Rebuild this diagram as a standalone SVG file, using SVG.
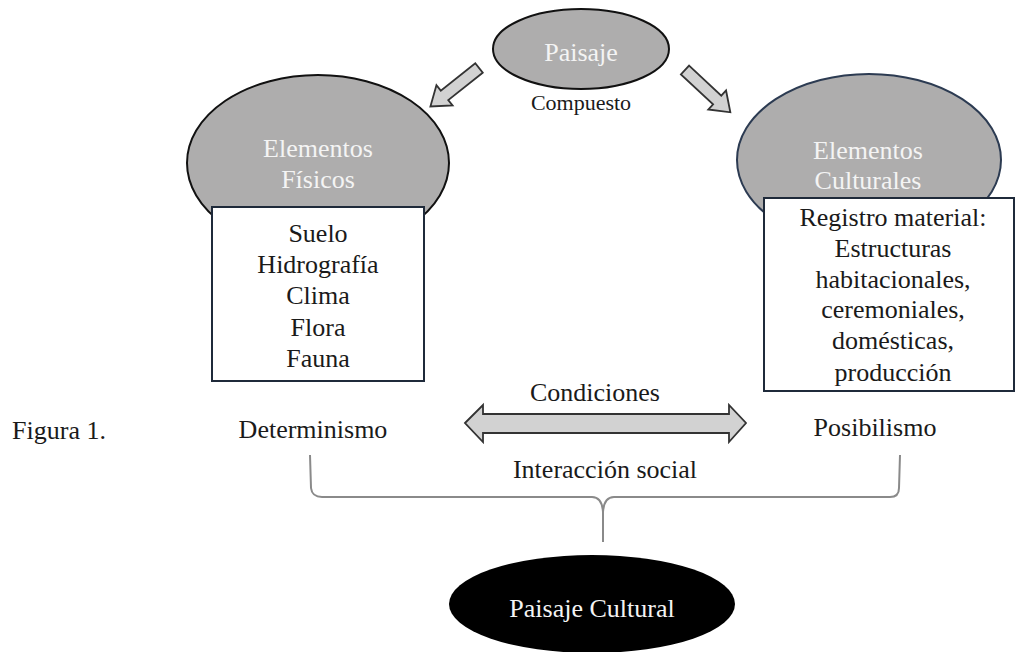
<svg xmlns="http://www.w3.org/2000/svg" width="1016" height="652" viewBox="0 0 1016 652">
<style>
.t{font-family:'Liberation Serif','Times New Roman',serif;font-size:26px;fill:#1a1a1a}
.w{fill:#f4f4f4}
.gray{fill:#aeadad;stroke-width:2}
.box{fill:#ffffff;stroke:#1f2a3a;stroke-width:2}
.blk{fill:#000000;stroke:none}
.arr{fill:#d2d2d2;stroke:#333;stroke-width:1.8;stroke-linejoin:miter}
.brace{fill:none;stroke:#8a8a8a;stroke-width:2}
</style>
<defs>
<polygon id="blockArrow" points="0,-6 44,-6 44,-13 62,0 44,13 44,6 0,6"/>
</defs>
<rect width="1016" height="652" fill="#ffffff"/>

<g id="connectors">
<use href="#blockArrow" class="arr" transform="translate(479,68) rotate(141.6)"/>
<use href="#blockArrow" class="arr" transform="translate(685,70) rotate(43)"/>
<polygon class="arr" stroke-width="2.5" points="465,423 483,405 483,414 729,414 729,405 746,423 729,442 729,433 483,433 483,442"/>
<path class="brace" d="M310,455 L311,488 Q312,497 322,497 L592,497 Q602,497 603,512 L603,542 M603,512 Q604,497 614,497 L890,497 Q899,497 899,488 L900,455"/>
</g>

<g id="paisaje" text-anchor="middle">
<ellipse class="gray" cx="581" cy="49" rx="88" ry="40" stroke="#111"/>
<text class="t w" x="581" y="61">Paisaje</text>
</g>
<g id="label-compuesto" text-anchor="middle">
<text class="t" x="581" y="110" font-size="22" style="font-size:22px">Compuesto</text>
</g>

<g id="elementos-fisicos" text-anchor="middle">
<ellipse class="gray" cx="318" cy="163" rx="131" ry="88" stroke="#111"/>
<text class="t w" x="318" y="157">Elementos</text>
<text class="t w" x="318" y="188">Físicos</text>
<rect class="box" x="212" y="207" width="212" height="174"/>
<text class="t" x="318" y="242">Suelo</text>
<text class="t" x="318" y="273">Hidrografía</text>
<text class="t" x="318" y="304">Clima</text>
<text class="t" x="318" y="336">Flora</text>
<text class="t" x="318" y="367">Fauna</text>
</g>

<g id="elementos-culturales" text-anchor="middle">
<ellipse class="gray" cx="869" cy="160" rx="132" ry="86" stroke="#2c3b52"/>
<text class="t w" x="868" y="159">Elementos</text>
<text class="t w" x="868" y="189">Culturales</text>
<rect class="box" x="764" y="198" width="250" height="193"/>
<text class="t" x="893" y="226">Registro material:</text>
<text class="t" x="893" y="257">Estructuras</text>
<text class="t" x="893" y="288">habitacionales,</text>
<text class="t" x="893" y="318">ceremoniales,</text>
<text class="t" x="893" y="349">domésticas,</text>
<text class="t" x="893" y="381">producción</text>
</g>

<g id="labels">
<text class="t" x="106" y="439" text-anchor="end">Figura 1.</text>
<text class="t" x="313" y="438" text-anchor="middle">Determinismo</text>
<text class="t" x="875" y="436" text-anchor="middle">Posibilismo</text>
<text class="t" x="595" y="401" text-anchor="middle">Condiciones</text>
<text class="t" x="605" y="478" text-anchor="middle">Interacción social</text>
</g>

<g id="paisaje-cultural" text-anchor="middle">
<ellipse class="blk" cx="592" cy="604" rx="143" ry="49"/>
<text class="t w" x="592" y="617">Paisaje Cultural</text>
</g>
</svg>
